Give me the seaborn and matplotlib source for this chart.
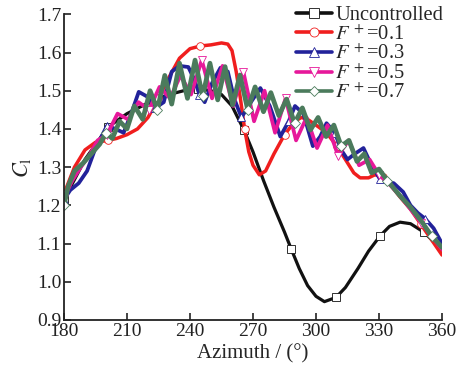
import numpy as np
import pandas as pd
import matplotlib
matplotlib.use("Agg")
import matplotlib.pyplot as plt
from matplotlib.lines import Line2D
from matplotlib.ticker import FormatStrFormatter
import seaborn as sns

# ---------------- data ----------------
az_unc = [180, 190, 201, 210, 222.5, 230, 237, 243.8, 250, 255, 260, 265.7, 270, 275, 280, 285, 288.1,
          292, 296, 300, 304, 309.5, 314, 320, 325, 330.5, 335, 340, 345, 351.6, 356, 360]
cl_unc = [1.215, 1.32, 1.405, 1.44, 1.475, 1.49, 1.50, 1.505, 1.50, 1.49, 1.46, 1.397, 1.34, 1.265,
          1.195, 1.13, 1.087, 1.035, 0.99, 0.962, 0.948, 0.959, 0.985, 1.035, 1.08, 1.12, 1.145,
          1.156, 1.152, 1.129, 1.105, 1.083]

az_f01 = [180, 185, 190, 195, 201, 205, 210, 215, 220, 225, 230, 235, 240, 245, 250, 255, 258, 260,
          262, 264, 266, 268, 270, 273, 276, 280, 285, 290, 293, 296, 300, 305, 310, 314, 318, 321,
          325, 328, 332, 336, 340, 345, 350, 355, 360]
cl_f01 = [1.23, 1.30, 1.345, 1.365, 1.37, 1.375, 1.385, 1.40, 1.43, 1.48, 1.535, 1.585, 1.61, 1.617,
          1.62, 1.625, 1.622, 1.605, 1.55, 1.48, 1.40, 1.34, 1.305, 1.28, 1.29, 1.335, 1.385, 1.42,
          1.43, 1.425, 1.41, 1.39, 1.355, 1.32, 1.285, 1.272, 1.272, 1.28, 1.275, 1.25, 1.222, 1.19,
          1.15, 1.11, 1.07]

az_f03 = [180, 183, 187, 191, 195, 200.5, 204.5, 208.4, 212, 215.6, 219.5, 223.5, 227.5, 231.3, 235,
          239.2, 242, 244.5, 247, 250.5, 254.5, 258, 261, 264.5, 269, 273.5, 278, 283, 287, 290, 294,
          298.5, 302, 305, 309, 312, 315, 318.5, 322.6, 326, 330.5, 334, 337, 341.5, 345, 348.5, 352,
          356, 360]
cl_f03 = [1.215, 1.24, 1.258, 1.29, 1.35, 1.408, 1.40, 1.39, 1.44, 1.497, 1.485, 1.455, 1.47, 1.55,
          1.565, 1.562, 1.53, 1.49, 1.47, 1.52, 1.56, 1.55, 1.48, 1.43, 1.47, 1.507, 1.46, 1.38, 1.42,
          1.46, 1.44, 1.355, 1.38, 1.415, 1.39, 1.345, 1.32, 1.335, 1.35, 1.31, 1.268, 1.262, 1.258,
          1.235, 1.20, 1.18, 1.165, 1.14, 1.10]

az_f05 = [180, 184, 188, 192, 196, 200.5, 205.5, 210.5, 215.5, 220.5, 225.5, 230.5, 235.5, 240.5,
          245.6, 250.5, 255.5, 260.5, 265.4, 270.5, 275.5, 280.5, 285.5, 290.5, 295.5, 300.5, 305.5,
          310.5, 315.5, 320.5, 325.5, 330, 335, 340, 345, 350, 355, 360]
cl_f05 = [1.22, 1.265, 1.30, 1.33, 1.37, 1.385, 1.44, 1.425, 1.47, 1.45, 1.51, 1.48, 1.54, 1.49, 1.58,
          1.48, 1.565, 1.46, 1.55, 1.42, 1.50, 1.39, 1.48, 1.37, 1.43, 1.35, 1.41, 1.33, 1.37, 1.305,
          1.32, 1.28, 1.255, 1.225, 1.19, 1.155, 1.12, 1.085]

az_f07 = [180, 182, 185, 189, 193, 197, 200, 203, 206.5, 210, 213.5, 217.5, 221, 224.5, 228, 231.3,
          235, 238.8, 242.4, 246, 249.5, 253.2, 256.7, 260.3, 263.8, 267.5, 271, 275, 278.5, 282.3,
          286, 289.8, 293.5, 297.3, 301, 304.8, 308.5, 312, 315.7, 319.5, 323, 326.5, 330, 334, 340,
          345, 350, 355, 360]
cl_f07 = [1.20, 1.25, 1.29, 1.31, 1.335, 1.36, 1.39, 1.375, 1.42, 1.40, 1.46, 1.425, 1.50, 1.45, 1.54,
          1.465, 1.572, 1.48, 1.58, 1.485, 1.572, 1.476, 1.563, 1.463, 1.541, 1.45, 1.51, 1.445, 1.495,
          1.435, 1.478, 1.415, 1.455, 1.397, 1.43, 1.38, 1.41, 1.355, 1.37, 1.315, 1.335, 1.285, 1.295,
          1.265, 1.225, 1.195, 1.16, 1.12, 1.09]

# azimuths where the open markers sit
mk_common = [180, 201.5, 223, 244.5, 266, 287.5, 309, 330.5, 352]
mk_f07 = [180, 201, 223.3, 246, 268.5, 290.8, 313, 334.5, 356]

labels = ["Uncontrolled", r"$F^{\,+}$=0.1", r"$F^{\,+}$=0.3", r"$F^{\,+}$=0.5", r"$F^{\,+}$=0.7"]
x_ticks = [180, 210, 240, 270, 300, 330, 360]
y_ticks = [0.9, 1.0, 1.1, 1.2, 1.3, 1.4, 1.5, 1.6, 1.7]

# ---------------- style ----------------
sns.set_style("ticks")
plt.rcParams["font.family"] = ["Liberation Serif", "DejaVu Serif"]
plt.rcParams["mathtext.fontset"] = "stix"

fig = plt.figure(figsize=(4.59, 3.74), dpi=100)
ax = fig.add_axes([0.1394, 0.1444, 0.8236, 0.8174])

series = [
    (az_unc, cl_unc, "#111111", "s", 2.3, mk_common),
    (az_f01, cl_f01, "#f01e1e", "o", 2.5, mk_common),
    (az_f03, cl_f03, "#22229a", "^", 2.7, mk_common),
    (az_f05, cl_f05, "#e6189a", "v", 2.7, mk_common),
    (az_f07, cl_f07, "#4b7b5c", "D", 3.4, mk_f07),
]

handles = []
for (xs, ys, col, mk, lw, mks), lab in zip(series, labels):
    xs_arr = np.asarray(xs, dtype=float)
    idx = sorted({int(np.argmin(np.abs(xs_arr - m))) for m in mks})
    df = pd.DataFrame({"az": xs, "cl": ys})
    sns.lineplot(data=df, x="az", y="cl", ax=ax, color=col, lw=lw, sort=False,
                 errorbar=None, marker=mk, markevery=idx, ms=5.5 if mk != "D" else 5,
                 mfc="white", mec=col, mew=0.6, solid_joinstyle="round", legend=False)
    handles.append(Line2D([0], [0], color=col, lw=2.6, marker=mk, ms=6.5 if mk != "D" else 5.5,
                          mfc="white", mec=col, mew=0.6))

ax.set_xlim(180, 360)
ax.set_ylim(0.9, 1.7)
ax.set_xticks(x_ticks)
ax.set_yticks(y_ticks)
ax.yaxis.set_major_formatter(FormatStrFormatter("%.1f"))
sns.despine(ax=ax)
for s in ["left", "bottom"]:
    ax.spines[s].set_linewidth(1.3)
    ax.spines[s].set_color("#222222")
ax.tick_params(direction="in", length=5, width=1.2, labelsize=14, colors="#222222", pad=2)

ax.set_xlabel("Azimuth / (°)", fontsize=15, labelpad=3)
ax.set_ylabel(r"$C_\mathrm{l}$", fontsize=16, labelpad=3)

leg = ax.legend(handles, labels, loc="upper right", bbox_to_anchor=(1.025, 1.055), frameon=False,
                fontsize=14.8, handlelength=1.75, handletextpad=0.15, labelspacing=0.0,
                borderaxespad=0.0, numpoints=1)

fig.savefig("out.png", dpi=100)
